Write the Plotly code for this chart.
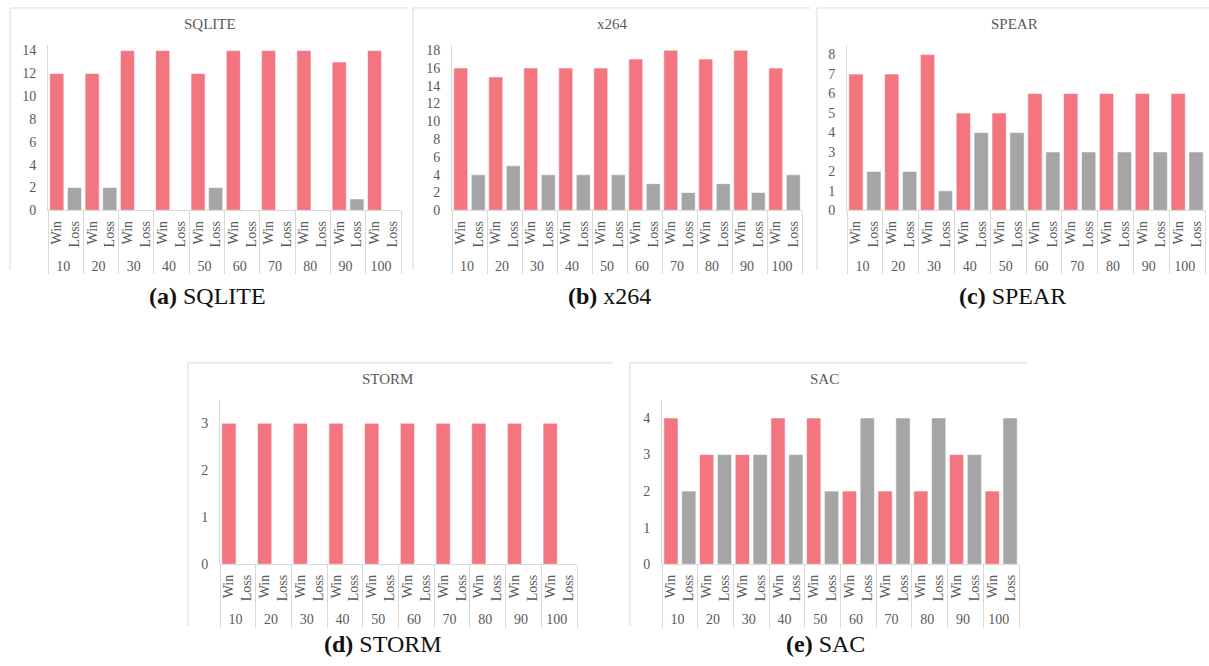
import plotly.graph_objects as go

W, H = 1209, 666
KY = 674.0 / 666.0  # vertical compensation for the capture


def py(y):
    """pixel row (from top) -> paper fraction"""
    return (H - y * KY) / H


groups = ["10", "20", "30", "40", "50", "60", "70", "80", "90", "100"]
outcomes = ["Win", "Loss"]

sqlite_win = [12, 12, 14, 14, 12, 14, 14, 14, 13, 14]
sqlite_loss = [2, 2, 0, 0, 2, 0, 0, 0, 1, 0]
x264_win = [16, 15, 16, 16, 16, 17, 18, 17, 18, 16]
x264_loss = [4, 5, 4, 4, 4, 3, 2, 3, 2, 4]
spear_win = [7, 7, 8, 5, 5, 6, 6, 6, 6, 6]
spear_loss = [2, 2, 1, 4, 4, 3, 3, 3, 3, 3]
storm_win = [3, 3, 3, 3, 3, 3, 3, 3, 3, 3]
storm_loss = [0, 0, 0, 0, 0, 0, 0, 0, 0, 0]
sac_win = [4, 3, 3, 4, 4, 2, 2, 2, 3, 2]
sac_loss = [2, 3, 3, 3, 2, 4, 4, 4, 3, 4]

titles = ["SQLITE", "x264", "SPEAR", "STORM", "SAC"]
captions = ["(a)", "(b)", "(c)", "(d)", "(e)"]

WIN_C = "#F27580"
LOSS_C = "#A5A5A5"
TXT = "#595959"
LINE = "#D9D9D9"
FONT = "Liberation Serif"

panels = [
    dict(win=sqlite_win, loss=sqlite_loss, x=(48, 401), y=(209, 43), yr=14.5, dt=2,
         frame=(10, 6, 269), title=(210, 22), cap=(207, 295)),
    dict(win=x264_win, loss=x264_loss, x=(452, 802), y=(209, 43), yr=18.6, dt=2,
         frame=(413, 6, 269), title=(612, 22), cap=(609, 295)),
    dict(win=spear_win, loss=spear_loss, x=(847, 1205), y=(209, 43), yr=8.5, dt=1,
         frame=(817, 6, 269), title=(1014, 22), cap=(1012, 295)),
    dict(win=storm_win, loss=storm_loss, x=(220, 577), y=(564, 399), yr=3.5, dt=1,
         frame=(188, 362, 626), title=(387, 378), cap=(383, 644)),
    dict(win=sac_win, loss=sac_loss, x=(662, 1019), y=(564, 399), yr=4.5, dt=1,
         frame=(630, 362, 626), title=(824, 378), cap=(825, 644)),
]
frame_right = [408, 810, 1209, 613, 1027]

fig = go.Figure()
shapes = []
annotations = []
layout = {}

for i, p in enumerate(panels):
    n = "" if i == 0 else str(i + 1)
    xa, ya = "x" + n, "y" + n
    fig.add_trace(go.Bar(
        x=[groups, [outcomes[0]] * len(groups)], y=p["win"],
        marker=dict(color=WIN_C, line=dict(color="white", width=0.6)),
        xaxis=xa, yaxis=ya, showlegend=False, name="Win"))
    fig.add_trace(go.Bar(
        x=[groups, [outcomes[1]] * len(groups)], y=p["loss"],
        marker=dict(color=LOSS_C, line=dict(color="white", width=0.6)),
        xaxis=xa, yaxis=ya, showlegend=False, name="Loss"))

    x0, x1 = p["x"]
    yb, yt = p["y"]
    layout["xaxis" + n] = dict(
        type="multicategory", domain=[x0 / W, x1 / W], anchor=ya,
        showline=True, linecolor=LINE, linewidth=1,
        showdividers=True, dividercolor=LINE, dividerwidth=1,
        tickangle=-90, ticks="", showgrid=False, zeroline=False,
        ticklabelstandoff=4,
        tickfont=dict(family=FONT, size=14, color=TXT), fixedrange=True)
    layout["yaxis" + n] = dict(
        domain=[py(yb), py(yt)], anchor=xa,
        range=[0, p["yr"]], dtick=p["dt"], tick0=0,
        showline=True, linecolor=LINE, linewidth=1,
        showgrid=False, zeroline=False, ticks="",
        ticklabelstandoff=8,
        tickfont=dict(family=FONT, size=14, color=TXT), fixedrange=True)

    fx, fy0, fy1 = p["frame"]
    shapes.append(dict(type="line", xref="paper", yref="paper",
                       x0=fx / W, x1=fx / W, y0=py(fy0), y1=py(fy1),
                       line=dict(color=LINE, width=1)))
    shapes.append(dict(type="line", xref="paper", yref="paper",
                       x0=fx / W, x1=frame_right[i] / W, y0=py(fy0), y1=py(fy0),
                       line=dict(color=LINE, width=1)))

    tx, ty = p["title"]
    annotations.append(dict(x=tx / W, y=py(ty), xref="paper", yref="paper",
                            text=titles[i], showarrow=False, xanchor="center", yanchor="middle",
                            font=dict(family=FONT, size=15, color=TXT)))
    cx, cy = p["cap"]
    annotations.append(dict(x=cx / W, y=py(cy), xref="paper", yref="paper",
                            text="<b>" + captions[i] + "</b> " + titles[i], showarrow=False,
                            xanchor="center", yanchor="middle",
                            font=dict(family=FONT, size=24, color="#111111")))

fig.update_layout(
    width=W, height=H, margin=dict(l=0, r=0, t=0, b=0),
    paper_bgcolor="white", plot_bgcolor="white",
    barmode="overlay", bargap=0.2,
    shapes=shapes, annotations=annotations, showlegend=False,
    **layout)

post = "document.body.style.margin='0';document.body.style.overflow='hidden';"

fig.write_html("out.html", config={"displayModeBar": False}, post_script=post)
